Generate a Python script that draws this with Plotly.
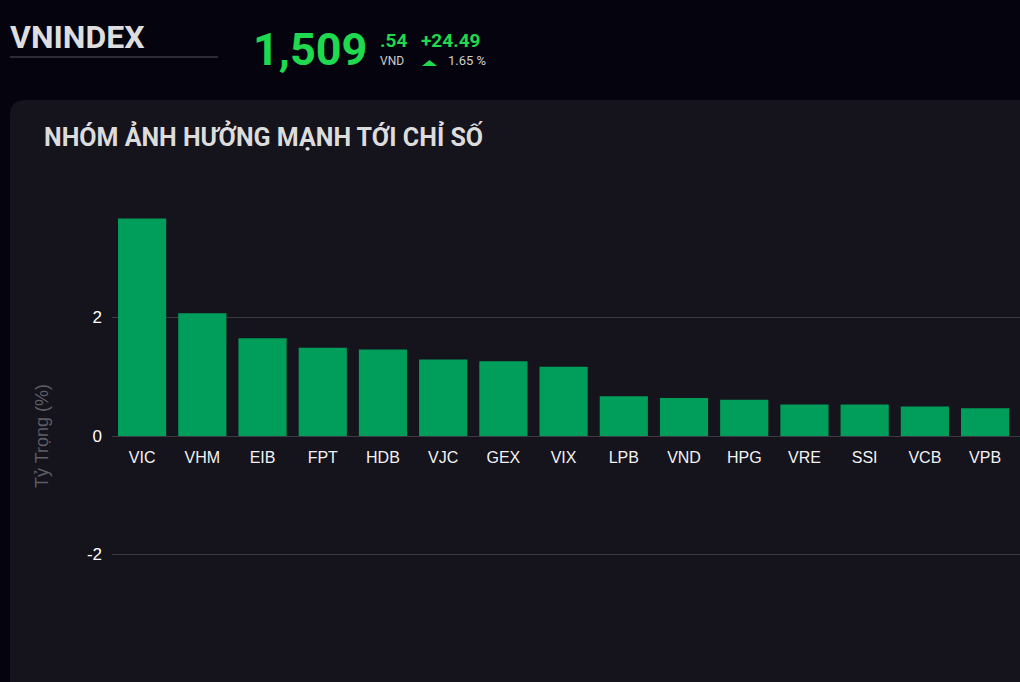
import plotly.graph_objects as go

# ====================================
# DU LIEU
# ====================================
ma_cp = ['VIC', 'VHM', 'EIB', 'FPT', 'HDB', 'VJC', 'GEX', 'VIX',
         'LPB', 'VND', 'HPG', 'VRE', 'SSI', 'VCB', 'VPB']
ty_trong = [3.67, 2.07, 1.65, 1.49, 1.46, 1.29, 1.26, 1.17,
            0.67, 0.64, 0.61, 0.53, 0.53, 0.50, 0.47]
moc_y = [-2, 0, 2]
nhan_y = ['-2', '0', '2']

chi_so = 'VNINDEX'
gia_nguyen = '1,509'
gia_le = '.54'
thay_doi = '+24.49'
thay_doi_pct = '1.65 %'
tieu_de = 'NHÓM ẢNH HƯỞNG MẠNH TỚI CHỈ SỐ'

# ====================================
# BO CUC
# ====================================
W, H = 1020, 682
L, R, T, B = 112, 0, 202, 12
y_lo, y_hi = -3.95, 3.95

NEN = '#05040e'
KHUNG = '#15131c'
XANH = '#009e5a'
XANH_SANG = '#1fd94f'


def px(x):
    # pixel -> toa do paper (ngang)
    return (x - L) / (W - L - R)


def py(y):
    # pixel -> toa do paper (doc)
    return (H - B - y) / (H - T - B)


fig = go.Figure()

fig.add_trace(go.Bar(
    x=ma_cp,
    y=ty_trong,
    marker_color=XANH,
    marker_line_width=0,
    hoverinfo='x+y',
))

# khung nen bo goc
r = 15
x0, y0, x1, y1 = 10, 100, 1040, 700
path = (f'M {px(x0)},{py(y1)} L {px(x0)},{py(y0 + r)} '
        f'Q {px(x0)},{py(y0)} {px(x0 + r)},{py(y0)} '
        f'L {px(x1)},{py(y0)} L {px(x1)},{py(y1)} Z')
shapes = [
    dict(type='path', path=path, xref='paper', yref='paper',
         fillcolor=KHUNG, line_width=0, layer='below'),
    dict(type='line', xref='paper', yref='paper',
         x0=px(10), x1=px(218), y0=py(57), y1=py(57),
         line=dict(color='#3a3a48', width=1.5)),
    dict(type='path', xref='paper', yref='paper',
         path=(f'M {px(422)},{py(66)} L {px(437)},{py(66)} '
               f'L {px(429.5)},{py(60)} Z'),
         fillcolor=XANH_SANG, line_width=0),
]

anns = []


def txt(text, x, y, size, color, bold=False, xanchor='left', font='Roboto'):
    anns.append(dict(
        text=f'<b>{text}</b>' if bold else text,
        x=px(x), y=py(y), xref='paper', yref='paper',
        xanchor=xanchor, yanchor='middle', showarrow=False,
        font=dict(family=font, size=size, color=color),
    ))


txt(chi_so, 8, 37, 32, '#dedede', bold=True)
txt(gia_nguyen, 251, 49, 45, XANH_SANG, bold=True)
txt(gia_le, 378, 41, 19, XANH_SANG, bold=True)
txt('VND', 378, 61, 12, '#cfcfcf')
txt(thay_doi, 419, 41, 19, XANH_SANG, bold=True)
txt(thay_doi_pct, 446, 61, 13, '#cfcfcf')
txt(tieu_de, 42, 136, 25, '#dcdcdc', bold=True)

fig.update_layout(
    width=W, height=H,
    margin=dict(l=L, r=R, t=T, b=B, pad=0),
    paper_bgcolor=NEN,
    plot_bgcolor='rgba(0,0,0,0)',
    showlegend=False,
    bargap=0.2,
    shapes=shapes,
    annotations=anns,
    font=dict(family='Liberation Sans, Arial', color='#ffffff'),
    xaxis=dict(
        anchor='free',
        position=(0 - y_lo) / (y_hi - y_lo),
        range=[-0.5, len(ma_cp) - 0.42],
        showgrid=False,
        showline=False,
        zeroline=False,
        ticks='',
        ticklabelstandoff=10,
        tickfont=dict(size=16, color='#f2f2f2'),
    ),
    yaxis=dict(
        range=[y_lo, y_hi],
        tickvals=moc_y,
        ticktext=nhan_y,
        showgrid=True,
        gridcolor='#3a3944',
        gridwidth=1,
        zeroline=True,
        zerolinecolor='#3a3944',
        zerolinewidth=1,
        ticks='',
        ticklabelstandoff=9,
        tickfont=dict(size=17, color='#ffffff'),
        title=dict(text='Tỷ Trọng (%)', standoff=33,
                   font=dict(size=18, color='#5e5e66')),
    ),
)

fig.write_html('out.html', config={'displayModeBar': False},
               post_script="document.body.style.margin='0';")
